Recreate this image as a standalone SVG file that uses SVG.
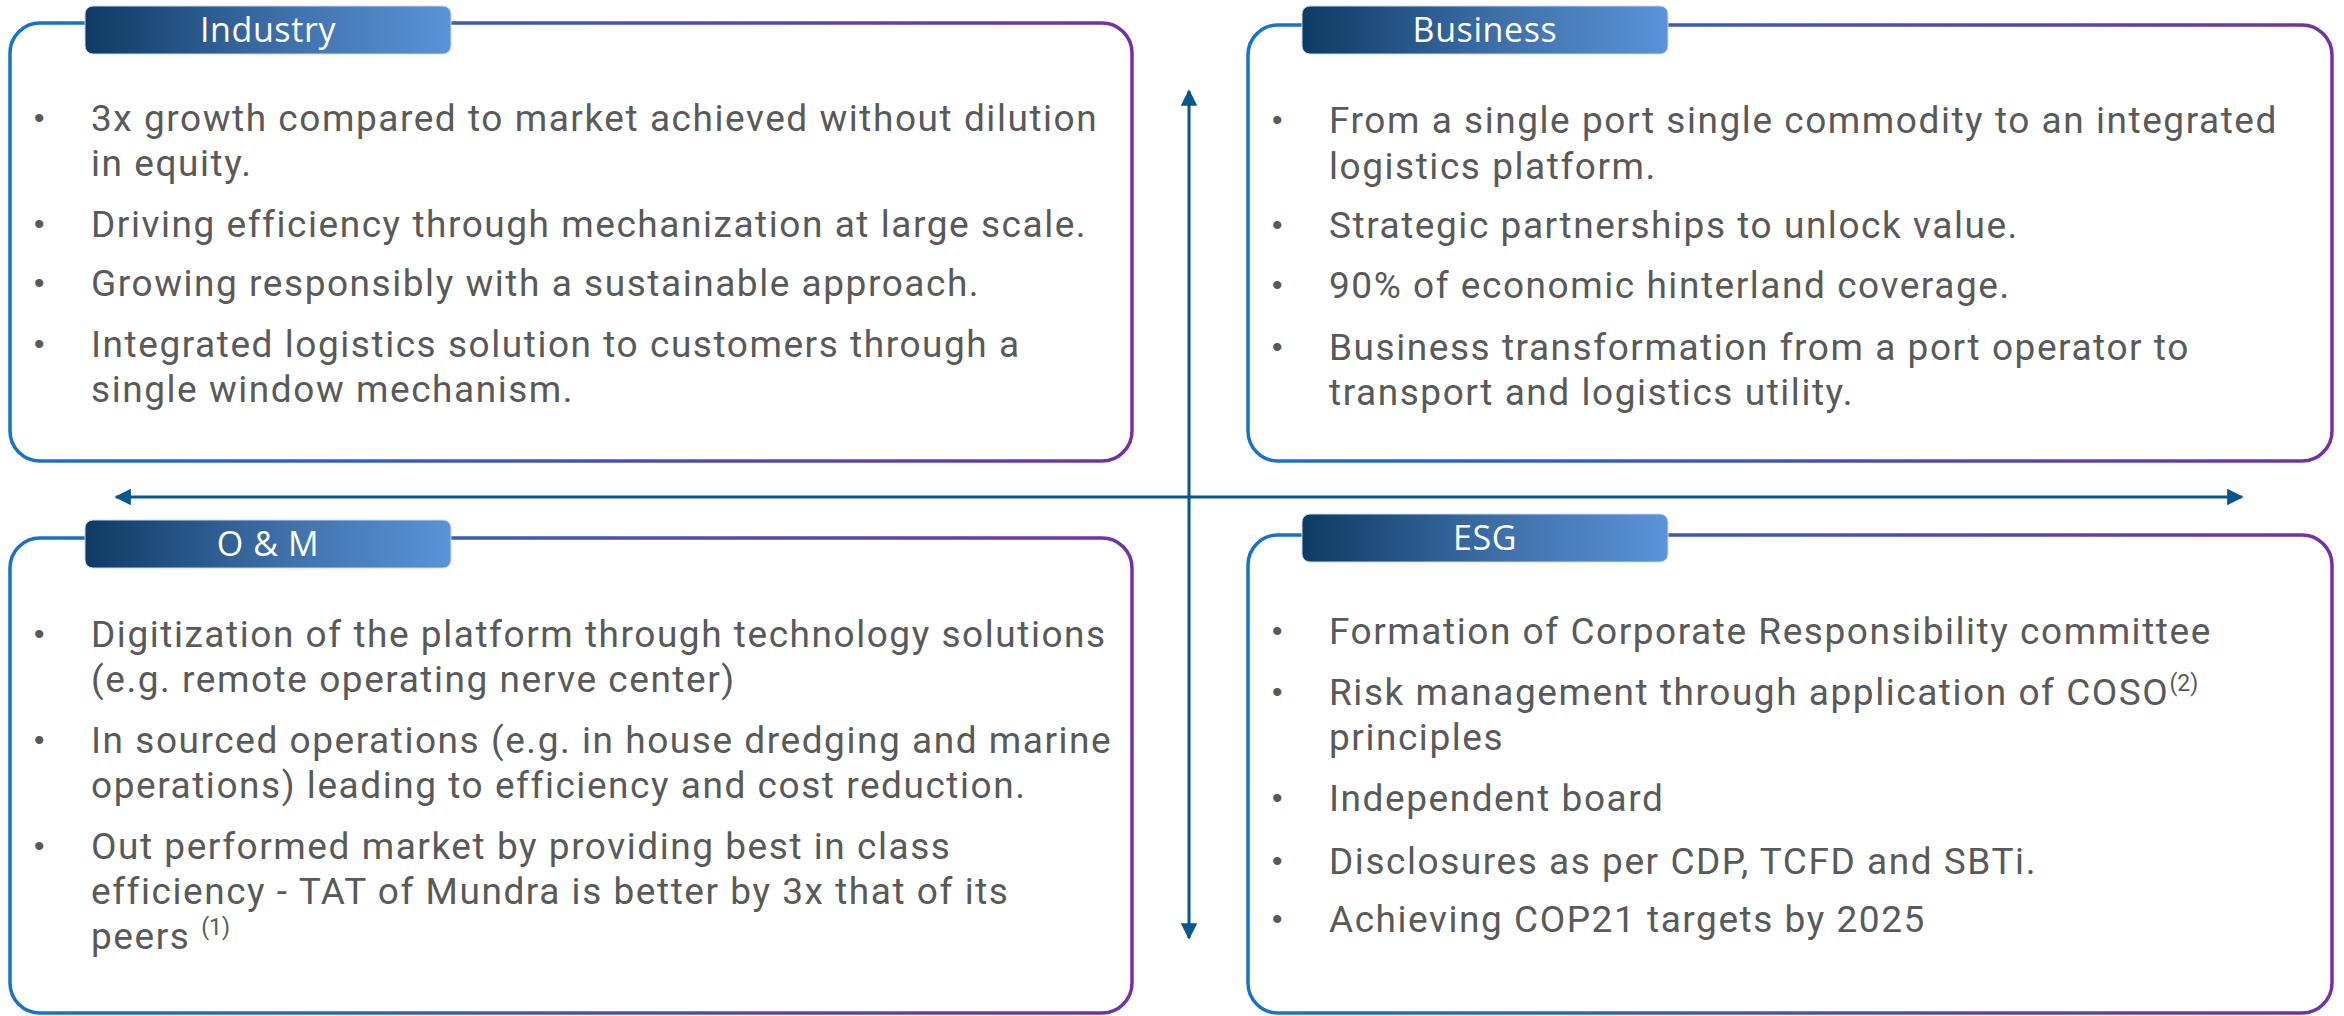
<svg xmlns="http://www.w3.org/2000/svg" width="2344" height="1016" viewBox="0 0 2344 1016">
<defs>
<linearGradient id="boxStroke" x1="0" y1="0" x2="1" y2="0">
<stop offset="0" stop-color="#1673c9"/>
<stop offset="1" stop-color="#7232a3"/>
</linearGradient>
<linearGradient id="tabFill" x1="0" y1="0" x2="1" y2="0">
<stop offset="0" stop-color="#0d3b64"/>
<stop offset="0.55" stop-color="#3f70aa"/>
<stop offset="1" stop-color="#5b93d9"/>
</linearGradient>
<marker id="ah" viewBox="0 0 10 10" refX="9" refY="5" markerWidth="5.5" markerHeight="5.5" orient="auto-start-reverse" markerUnits="strokeWidth">
<path d="M0,0 L10,5 L0,10 z" fill="#06568f"/>
</marker>
<style>
.box{fill:#fff;stroke:url(#boxStroke);stroke-width:3.5}
.tab{fill:url(#tabFill);stroke:#c9d9ee;stroke-width:1}
.title{font-family:"Open Sans","Noto Sans",sans-serif;font-size:34px;fill:#fff;text-anchor:middle;letter-spacing:0.6px}
.t{font-family:Roboto,"Open Sans",sans-serif;font-size:37px;fill:#595959;letter-spacing:1.55px}
.b{font-family:"Liberation Sans",sans-serif;font-size:30px;fill:#595959}
.sup{font-size:23px;letter-spacing:0}
.conn{stroke:#06568f;stroke-width:3;fill:none}
</style>
</defs>
<rect width="2344" height="1016" fill="#fff"/>

<g id="connectors">
<line class="conn" x1="1189" y1="938" x2="1189" y2="91" marker-end="url(#ah)" marker-start="url(#ah)"/>
<line class="conn" x1="116" y1="497" x2="2242" y2="497" marker-end="url(#ah)" marker-start="url(#ah)"/>
</g>

<g id="industry">
<rect class="box" x="10" y="23" width="1122" height="438" rx="30"/>
<rect class="tab" x="85" y="6" width="366" height="48" rx="8"/>
<text class="title" x="268" y="42">Industry</text>
<text class="b" x="34" y="128">•</text>
<text class="t" x="91" y="131">3x growth compared to market achieved without dilution</text>
<text class="t" x="91" y="176">in equity.</text>
<text class="b" x="34" y="234">•</text>
<text class="t" x="91" y="237">Driving efficiency through mechanization at large scale.</text>
<text class="b" x="34" y="293">•</text>
<text class="t" x="91" y="296">Growing responsibly with a sustainable approach.</text>
<text class="b" x="34" y="354">•</text>
<text class="t" x="91" y="357">Integrated logistics solution to customers through a</text>
<text class="t" x="91" y="402">single window mechanism.</text>
</g>

<g id="business">
<rect class="box" x="1248" y="25" width="1084" height="436" rx="30"/>
<rect class="tab" x="1302" y="6" width="366" height="48" rx="8"/>
<text class="title" x="1485" y="42">Business</text>
<text class="b" x="1272" y="130">•</text>
<text class="t" x="1329" y="133">From a single port single commodity to an integrated</text>
<text class="t" x="1329" y="179">logistics platform.</text>
<text class="b" x="1272" y="235">•</text>
<text class="t" x="1329" y="238">Strategic partnerships to unlock value.</text>
<text class="b" x="1272" y="295">•</text>
<text class="t" x="1329" y="298">90% of economic hinterland coverage.</text>
<text class="b" x="1272" y="357">•</text>
<text class="t" x="1329" y="360">Business transformation from a port operator to</text>
<text class="t" x="1329" y="405">transport and logistics utility.</text>
</g>

<g id="om">
<rect class="box" x="10" y="538" width="1122" height="475" rx="30"/>
<rect class="tab" x="85" y="520" width="366" height="48" rx="8"/>
<text class="title" x="268" y="556">O &amp; M</text>
<text class="b" x="34" y="644">•</text>
<text class="t" x="91" y="647">Digitization of the platform through technology solutions</text>
<text class="t" x="91" y="692">(e.g. remote operating nerve center)</text>
<text class="b" x="34" y="750">•</text>
<text class="t" x="91" y="753">In sourced operations (e.g. in house dredging and marine</text>
<text class="t" x="91" y="798">operations) leading to efficiency and cost reduction.</text>
<text class="b" x="34" y="856">•</text>
<text class="t" x="91" y="859">Out performed market by providing best in class</text>
<text class="t" x="91" y="904">efficiency - TAT of Mundra is better by 3x that of its</text>
<text class="t" x="91" y="949">peers <tspan class="sup" dy="-14">(1)</tspan></text>
</g>

<g id="esg">
<rect class="box" x="1248" y="535" width="1084" height="478" rx="30"/>
<rect class="tab" x="1302" y="514" width="366" height="48" rx="8"/>
<text class="title" x="1485" y="550">ESG</text>
<text class="b" x="1272" y="641">•</text>
<text class="t" x="1329" y="644">Formation of Corporate Responsibility committee</text>
<text class="b" x="1272" y="702">•</text>
<text class="t" x="1329" y="705">Risk management through application of COSO<tspan class="sup" dy="-14">(2)</tspan></text>
<text class="t" x="1329" y="750">principles</text>
<text class="b" x="1272" y="808">•</text>
<text class="t" x="1329" y="811">Independent board</text>
<text class="b" x="1272" y="871">•</text>
<text class="t" x="1329" y="874">Disclosures as per CDP, TCFD and SBTi.</text>
<text class="b" x="1272" y="929">•</text>
<text class="t" x="1329" y="932">Achieving COP21 targets by 2025</text>
</g>
</svg>
